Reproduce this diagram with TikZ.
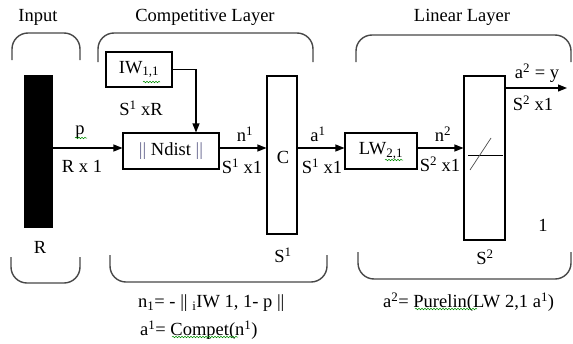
\documentclass[tikz,border=0pt]{standalone}
\usepackage{fontspec}
\setmainfont{Liberation Serif}
\usetikzlibrary{arrows.meta,decorations.pathmorphing}
\definecolor{barc}{RGB}{105,105,145}
\begin{document}
\begin{tikzpicture}[x=1pt,y=-1pt,
  every node/.style={font=\fontsize{18.5}{20}\selectfont, inner sep=0pt},
  box/.style={draw, line width=1.1pt, rectangle},
  arr/.style={line width=1.1pt, -{Triangle[length=9pt,width=7pt]}},
  brk/.style={line width=1.4pt, draw=black!72, rounded corners=16pt},
  squig/.style={draw=green!55!black, line width=0.5pt, decorate, decoration={snake, amplitude=0.8pt, segment length=3pt}}]
\useasboundingbox (0,0) rectangle (573,343);

% titles
\node (tin) at (38,17) {Input};
\node (tcomp) at (205,17) {Competitive Layer};
\node (tlin) at (462,17) {Linear Layer};

% brackets
\draw[brk] (12,60) -- (12,33) -- (80,33) -- (80,60);
\draw[brk] (98,62) -- (98,33) -- (313,33) -- (313,62);
\draw[brk] (356,62) -- (356,35) -- (571,35) -- (571,62);
\draw[brk] (11,257) -- (11,283) -- (80,283) -- (80,257);
\draw[brk] (110,255) -- (110,282) -- (327,282) -- (327,255);
\draw[brk] (358,252) -- (358,279) -- (571,279) -- (571,252);

% input bar
\node[fill=black, minimum width=29pt, minimum height=153pt] (bar) at (38.5,151.5) {};
\node (lr) at (40,247) {R};

% boxes
\node[box, minimum width=66pt, minimum height=35pt] (iw) at (139,69.5) {IW\textsubscript{1,1}};
\node (siw) at (141,108) {S\textsuperscript{1} xR};
\node[box, minimum width=96pt, minimum height=36pt] (nd) at (171,151) {\textcolor{barc}{||} Ndist \textcolor{barc}{||}};
\node[box, minimum width=30pt, minimum height=158pt] (cb) at (282,155) {};
\node (cl) at (283,157) {C};
\node (s1) at (283,255) {S\textsuperscript{1}};
\node[box, minimum width=72pt, minimum height=36pt] (lw) at (381,151) {LW\textsubscript{2,1}};
\node[box, minimum width=41pt, minimum height=164pt] (pb) at (484.5,158) {};
\node (s2) at (485,257) {S\textsuperscript{2}};
\node (one) at (543,225) {1};

% purelin symbol
\draw[line width=0.9pt] (468,155) -- (503,155);
\draw[line width=0.7pt, black!70] (470,170) -- (491,138);

% helper coordinates
\coordinate (ay) at (0,148);
\coordinate (xiw) at (196,0);
\coordinate (yout) at (0,88);
\coordinate (xend) at (567,0);

% connectors
\draw[arr] (bar.east |- ay) -- (nd.west |- ay);
\draw[arr] (iw.east) -| (nd.north -| xiw);
\draw[arr] (nd.east |- ay) -- (cb.west |- ay);
\draw[arr] (cb.east |- ay) -- (lw.west |- ay);
\draw[arr] (lw.east |- ay) -- (pb.west |- ay);
\draw[arr] (pb.east |- yout) -- (xend |- yout);

% connector labels
\node (lp) at (80,132) {p};
\node (lrx) at (82,166) {R x 1};
\node (ln1) at (245,134) {n\textsuperscript{1}};
\node (ls1a) at (242,166) {S\textsuperscript{1} x1};
\node (la1) at (318,134) {a\textsuperscript{1}};
\node (ls1b) at (322,166) {S\textsuperscript{1} x1};
\node (ln2) at (443,134) {n\textsuperscript{2}};
\node (ls2a) at (440,164) {S\textsuperscript{2} x1};
\node (la2) at (537,73) {a\textsuperscript{2} = y};
\node (ls2b) at (533,103) {S\textsuperscript{2} x1};

% formulas
\node[anchor=west] (f1) at (138,303) {n\textsubscript{1}= - || \textsubscript{i}IW 1, 1- p ||};
\node[anchor=west] (f2) at (140,330) {a\textsuperscript{1}= Compet(n\textsuperscript{1})};
\node[anchor=west] (f3) at (383,302) {a\textsuperscript{2}= Purelin(LW 2,1 a\textsuperscript{1})};

% spell-check squiggles
\draw[squig] (143,82) -- (160,82);
\draw[squig] (385,160) -- (403,160);
\draw[squig] (75,138) -- (87,138);
\draw[squig] (172,337) -- (238,337);
\draw[squig] (415,309) -- (477,309);
\end{tikzpicture}
\end{document}
